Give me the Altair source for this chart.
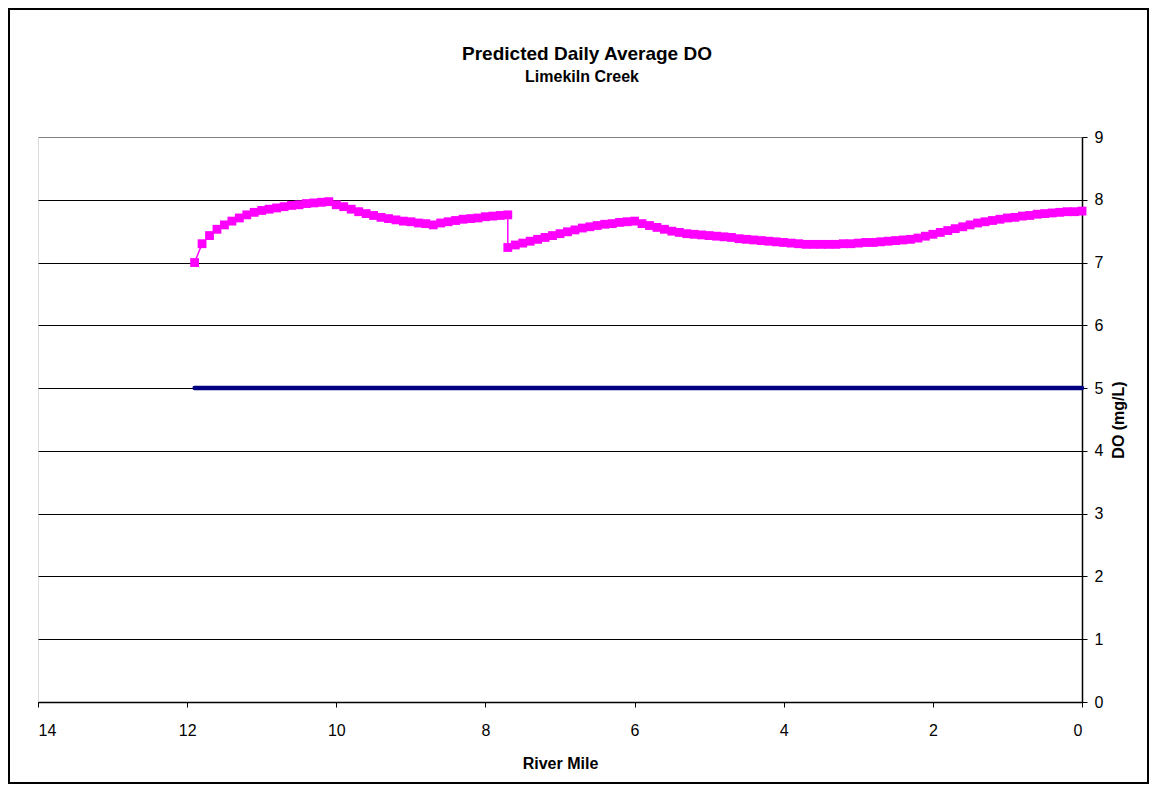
import altair as alt
import pandas as pd

# Predicted DO (mg/L) by river mile, two reaches
reach1_mile = [11.9, 11.8, 11.7, 11.6, 11.5, 11.4, 11.3, 11.2, 11.1, 11.0,
               10.9, 10.8, 10.7, 10.6, 10.5, 10.4, 10.3, 10.2, 10.1, 10.0,
               9.9, 9.8, 9.7, 9.6, 9.5, 9.4, 9.3, 9.2, 9.1, 9.0,
               8.9, 8.8, 8.7, 8.6, 8.5, 8.4, 8.3, 8.2, 8.1, 8.0,
               7.9, 7.8, 7.7]
reach1_do = [7.00, 7.30, 7.43, 7.53, 7.60, 7.66, 7.71, 7.76, 7.80, 7.83,
             7.85, 7.87, 7.89, 7.91, 7.92, 7.94, 7.95, 7.96, 7.97, 7.92,
             7.89, 7.85, 7.81, 7.78, 7.75, 7.72, 7.70, 7.68, 7.66, 7.65,
             7.63, 7.62, 7.60, 7.63, 7.65, 7.67, 7.69, 7.70, 7.71, 7.73,
             7.74, 7.75, 7.76]
reach2_mile = [7.7, 7.6, 7.5, 7.4, 7.3, 7.2, 7.1, 7.0,
               6.9, 6.8, 6.7, 6.6, 6.5, 6.4, 6.3, 6.2, 6.1, 6.0,
               5.9, 5.8, 5.7, 5.6, 5.5, 5.4, 5.3, 5.2, 5.1, 5.0,
               4.9, 4.8, 4.7, 4.6, 4.5, 4.4, 4.3, 4.2, 4.1, 4.0,
               3.9, 3.8, 3.7, 3.6, 3.5, 3.4, 3.3, 3.2, 3.1, 3.0,
               2.9, 2.8, 2.7, 2.6, 2.5, 2.4, 2.3, 2.2, 2.1, 2.0,
               1.9, 1.8, 1.7, 1.6, 1.5, 1.4, 1.3, 1.2, 1.1, 1.0,
               0.9, 0.8, 0.7, 0.6, 0.5, 0.4, 0.3, 0.2, 0.1, 0.0]
reach2_do = [7.24, 7.28, 7.31, 7.34, 7.37, 7.40, 7.43, 7.46,
             7.49, 7.52, 7.55, 7.57, 7.59, 7.61, 7.62, 7.64, 7.65, 7.66,
             7.62, 7.59, 7.56, 7.53, 7.50, 7.48, 7.46, 7.45, 7.44, 7.43,
             7.42, 7.41, 7.40, 7.38, 7.37, 7.36, 7.35, 7.34, 7.33, 7.32,
             7.31, 7.30, 7.29, 7.29, 7.29, 7.29, 7.29, 7.30, 7.30, 7.31,
             7.32, 7.32, 7.33, 7.34, 7.35, 7.36, 7.37, 7.39, 7.42, 7.45,
             7.48, 7.51, 7.54, 7.57, 7.60, 7.63, 7.65, 7.67, 7.69, 7.71,
             7.72, 7.74, 7.75, 7.77, 7.78, 7.79, 7.80, 7.81, 7.81, 7.82]

# DO standard
std_mile = [11.9, 0.0]
std_do = [5.0, 5.0]

title_text = ["Predicted Daily Average DO"]
subtitle_text = ["Limekiln Creek"]

FONT = "Liberation Sans"

miles = reach1_mile + reach2_mile
dos = reach1_do + reach2_do
pred = pd.DataFrame({"mile": miles, "do": dos, "idx": list(range(len(miles)))})
std = pd.DataFrame({"mile": std_mile, "do": std_do})

xscale = alt.Scale(domain=[0, 14], reverse=True, nice=False)
yscale = alt.Scale(domain=[0, 9], nice=False)

xaxis = alt.Axis(values=[0, 2, 4, 6, 8, 10, 12, 14], format="d", grid=False,
                 title="River Mile", titleFont=FONT, titleFontSize=16,
                 titleFontWeight="bold", titleColor="black",
                 titleY=66, titleBaseline="alphabetic",
                 labelFont=FONT, labelFontSize=16, labelColor="black",
                 labelPadding=15, tickSize=5, tickColor="black",
                 domainColor="black", domainWidth=1.5)
yaxis = alt.Axis(orient="right", values=list(range(10)), format="d",
                 grid=True,
                 gridColor={"condition": {"test": "datum.value == 9", "value": "#808080"}, "value": "black"},
                 gridWidth=1,
                 title="DO (mg/L)", titleFont=FONT, titleFontSize=16,
                 titleFontWeight="bold", titleColor="black", titleAngle=270,
                 titleBaseline="middle", titleAlign="center", titleX=36, titleY=282.5,
                 labelFont=FONT, labelFontSize=16, labelColor="black",
                 labelPadding=7, tickSize=5, tickColor="black",
                 domainColor="black", domainWidth=1.5)

std_line = alt.Chart(std).mark_line(color="#000080", strokeWidth=4.5, strokeCap="round").encode(
    x=alt.X("mile:Q", scale=xscale, axis=xaxis),
    y=alt.Y("do:Q", scale=yscale, axis=yaxis),
)

pred_line = alt.Chart(pred).mark_line(color="#FF00FF", strokeWidth=1.5).encode(
    x=alt.X("mile:Q", scale=xscale),
    y=alt.Y("do:Q", scale=yscale),
    order="idx:Q",
)
pred_pts = alt.Chart(pred).mark_point(shape="square", filled=True, size=78,
                                      color="#FF00FF", opacity=1).encode(
    x=alt.X("mile:Q", scale=xscale),
    y=alt.Y("do:Q", scale=yscale),
)

title_mark = alt.Chart(pd.DataFrame({"t": title_text})).mark_text(
    font=FONT, fontSize=19, fontWeight="bold", color="black",
    align="center", baseline="alphabetic"
).encode(text="t:N", x=alt.value(549), y=alt.value(-77))

subtitle_mark = alt.Chart(pd.DataFrame({"t": subtitle_text})).mark_text(
    font=FONT, fontSize=16, fontWeight="bold", color="black",
    align="center", baseline="alphabetic"
).encode(text="t:N", x=alt.value(544), y=alt.value(-55))

border = alt.Chart(pd.DataFrame({"k": [0]})).mark_rect(
    fill=None, stroke="black", strokeWidth=2, fillOpacity=0
).encode(
    x=alt.value(-29), x2=alt.value(1110), y=alt.value(-128), y2=alt.value(646)
)

chart = alt.layer(std_line, pred_line, pred_pts, title_mark, subtitle_mark, border).properties(
    width=1044,
    height=565,
    padding={"left": 30, "top": 129, "right": 67, "bottom": 82},
    autosize=alt.AutoSizeParams(type="none"),
).configure_view(stroke="#808080", strokeWidth=1.5).configure(background="white")

chart.save("out.html", embed_options={"renderer": "svg", "actions": False})
